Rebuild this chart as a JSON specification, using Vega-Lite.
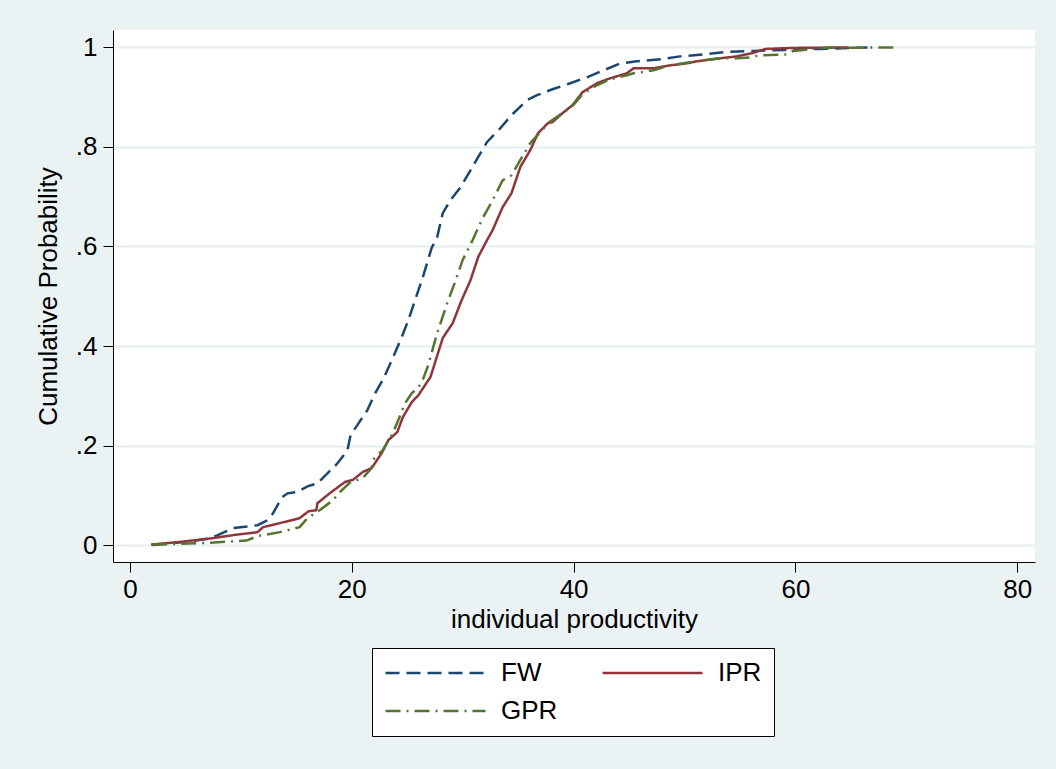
{
  "$schema": "https://vega.github.io/schema/vega-lite/v6.json",
  "width": 922,
  "height": 532,
  "autosize": {"type": "none"},
  "padding": {"left": 113, "top": 30, "right": 21, "bottom": 207},
  "background": "#EAF2F3",
  "datasets": {
    "cdf": [
      {"series": "FW", "x": 2.0, "p": 0.0},
      {"series": "FW", "x": 4.8, "p": 0.006},
      {"series": "FW", "x": 6.9, "p": 0.012},
      {"series": "FW", "x": 7.5, "p": 0.016},
      {"series": "FW", "x": 9.3, "p": 0.034},
      {"series": "FW", "x": 11.5, "p": 0.04},
      {"series": "FW", "x": 12.4, "p": 0.05},
      {"series": "FW", "x": 12.9, "p": 0.064},
      {"series": "FW", "x": 13.7, "p": 0.096},
      {"series": "FW", "x": 14.2, "p": 0.104},
      {"series": "FW", "x": 15.1, "p": 0.107},
      {"series": "FW", "x": 16.0, "p": 0.118},
      {"series": "FW", "x": 16.9, "p": 0.124},
      {"series": "FW", "x": 17.8, "p": 0.144},
      {"series": "FW", "x": 18.7, "p": 0.164},
      {"series": "FW", "x": 19.6, "p": 0.19},
      {"series": "FW", "x": 19.9, "p": 0.222},
      {"series": "FW", "x": 20.5, "p": 0.241},
      {"series": "FW", "x": 21.4, "p": 0.271},
      {"series": "FW", "x": 22.1, "p": 0.305},
      {"series": "FW", "x": 22.8, "p": 0.332},
      {"series": "FW", "x": 23.7, "p": 0.376},
      {"series": "FW", "x": 24.5, "p": 0.418},
      {"series": "FW", "x": 25.1, "p": 0.452},
      {"series": "FW", "x": 25.6, "p": 0.485},
      {"series": "FW", "x": 26.4, "p": 0.538},
      {"series": "FW", "x": 27.2, "p": 0.597},
      {"series": "FW", "x": 27.7, "p": 0.619},
      {"series": "FW", "x": 28.2, "p": 0.667},
      {"series": "FW", "x": 28.9, "p": 0.693},
      {"series": "FW", "x": 29.8, "p": 0.719},
      {"series": "FW", "x": 30.7, "p": 0.753},
      {"series": "FW", "x": 31.4, "p": 0.78},
      {"series": "FW", "x": 32.2, "p": 0.81},
      {"series": "FW", "x": 33.4, "p": 0.838},
      {"series": "FW", "x": 34.4, "p": 0.864},
      {"series": "FW", "x": 35.8, "p": 0.894},
      {"series": "FW", "x": 36.7, "p": 0.904},
      {"series": "FW", "x": 38.1, "p": 0.916},
      {"series": "FW", "x": 39.7, "p": 0.928},
      {"series": "FW", "x": 41.2, "p": 0.94},
      {"series": "FW", "x": 42.7, "p": 0.954},
      {"series": "FW", "x": 44.2, "p": 0.968},
      {"series": "FW", "x": 45.7, "p": 0.972},
      {"series": "FW", "x": 47.8, "p": 0.976},
      {"series": "FW", "x": 49.6, "p": 0.982},
      {"series": "FW", "x": 51.7, "p": 0.986},
      {"series": "FW", "x": 53.8, "p": 0.991},
      {"series": "FW", "x": 56.2, "p": 0.993},
      {"series": "FW", "x": 59.2, "p": 0.995},
      {"series": "FW", "x": 62.2, "p": 0.997},
      {"series": "FW", "x": 66.5, "p": 1.0},
      {"series": "IPR", "x": 1.9, "p": 0.001},
      {"series": "IPR", "x": 4.8, "p": 0.007},
      {"series": "IPR", "x": 7.5, "p": 0.014},
      {"series": "IPR", "x": 9.3, "p": 0.02},
      {"series": "IPR", "x": 11.5, "p": 0.026},
      {"series": "IPR", "x": 12.0, "p": 0.036},
      {"series": "IPR", "x": 13.5, "p": 0.044},
      {"series": "IPR", "x": 15.3, "p": 0.054},
      {"series": "IPR", "x": 16.1, "p": 0.068},
      {"series": "IPR", "x": 16.8, "p": 0.07},
      {"series": "IPR", "x": 16.9, "p": 0.084},
      {"series": "IPR", "x": 18.0, "p": 0.104},
      {"series": "IPR", "x": 19.4, "p": 0.127},
      {"series": "IPR", "x": 20.1, "p": 0.131},
      {"series": "IPR", "x": 21.0, "p": 0.147},
      {"series": "IPR", "x": 21.8, "p": 0.155},
      {"series": "IPR", "x": 22.7, "p": 0.185},
      {"series": "IPR", "x": 23.3, "p": 0.211},
      {"series": "IPR", "x": 24.1, "p": 0.227},
      {"series": "IPR", "x": 24.6, "p": 0.257},
      {"series": "IPR", "x": 25.4, "p": 0.287},
      {"series": "IPR", "x": 26.0, "p": 0.301},
      {"series": "IPR", "x": 27.1, "p": 0.338},
      {"series": "IPR", "x": 28.2, "p": 0.416},
      {"series": "IPR", "x": 29.1, "p": 0.446},
      {"series": "IPR", "x": 29.9, "p": 0.492},
      {"series": "IPR", "x": 30.7, "p": 0.532},
      {"series": "IPR", "x": 31.4, "p": 0.579},
      {"series": "IPR", "x": 32.2, "p": 0.613},
      {"series": "IPR", "x": 32.7, "p": 0.633},
      {"series": "IPR", "x": 33.6, "p": 0.679},
      {"series": "IPR", "x": 34.4, "p": 0.707},
      {"series": "IPR", "x": 35.2, "p": 0.76},
      {"series": "IPR", "x": 36.1, "p": 0.794},
      {"series": "IPR", "x": 36.8, "p": 0.828},
      {"series": "IPR", "x": 37.7, "p": 0.848},
      {"series": "IPR", "x": 38.1, "p": 0.85},
      {"series": "IPR", "x": 39.0, "p": 0.868},
      {"series": "IPR", "x": 39.9, "p": 0.884},
      {"series": "IPR", "x": 40.8, "p": 0.91},
      {"series": "IPR", "x": 42.1, "p": 0.928},
      {"series": "IPR", "x": 43.3, "p": 0.938},
      {"series": "IPR", "x": 44.8, "p": 0.948},
      {"series": "IPR", "x": 45.4, "p": 0.958},
      {"series": "IPR", "x": 47.2, "p": 0.958},
      {"series": "IPR", "x": 48.7, "p": 0.964},
      {"series": "IPR", "x": 50.2, "p": 0.968},
      {"series": "IPR", "x": 51.1, "p": 0.972},
      {"series": "IPR", "x": 53.2, "p": 0.978},
      {"series": "IPR", "x": 54.7, "p": 0.982},
      {"series": "IPR", "x": 56.2, "p": 0.989},
      {"series": "IPR", "x": 57.3, "p": 0.997},
      {"series": "IPR", "x": 59.8, "p": 0.999},
      {"series": "IPR", "x": 64.8, "p": 1.0},
      {"series": "GPR", "x": 2.0, "p": 0.001},
      {"series": "GPR", "x": 6.5, "p": 0.004},
      {"series": "GPR", "x": 10.5, "p": 0.009},
      {"series": "GPR", "x": 11.5, "p": 0.018},
      {"series": "GPR", "x": 13.5, "p": 0.026},
      {"series": "GPR", "x": 15.3, "p": 0.036},
      {"series": "GPR", "x": 16.0, "p": 0.054},
      {"series": "GPR", "x": 17.1, "p": 0.07},
      {"series": "GPR", "x": 18.3, "p": 0.09},
      {"series": "GPR", "x": 18.9, "p": 0.106},
      {"series": "GPR", "x": 19.8, "p": 0.125},
      {"series": "GPR", "x": 21.0, "p": 0.135},
      {"series": "GPR", "x": 21.8, "p": 0.155},
      {"series": "GPR", "x": 21.9, "p": 0.171},
      {"series": "GPR", "x": 22.8, "p": 0.191},
      {"series": "GPR", "x": 23.7, "p": 0.225},
      {"series": "GPR", "x": 24.3, "p": 0.257},
      {"series": "GPR", "x": 24.8, "p": 0.285},
      {"series": "GPR", "x": 25.4, "p": 0.305},
      {"series": "GPR", "x": 26.0, "p": 0.317},
      {"series": "GPR", "x": 26.4, "p": 0.332},
      {"series": "GPR", "x": 26.9, "p": 0.362},
      {"series": "GPR", "x": 27.7, "p": 0.426},
      {"series": "GPR", "x": 28.6, "p": 0.486},
      {"series": "GPR", "x": 29.3, "p": 0.528},
      {"series": "GPR", "x": 30.0, "p": 0.573},
      {"series": "GPR", "x": 30.9, "p": 0.613},
      {"series": "GPR", "x": 31.8, "p": 0.657},
      {"series": "GPR", "x": 32.7, "p": 0.693},
      {"series": "GPR", "x": 33.6, "p": 0.733},
      {"series": "GPR", "x": 34.4, "p": 0.743},
      {"series": "GPR", "x": 35.2, "p": 0.774},
      {"series": "GPR", "x": 36.1, "p": 0.808},
      {"series": "GPR", "x": 37.0, "p": 0.83},
      {"series": "GPR", "x": 37.7, "p": 0.848},
      {"series": "GPR", "x": 39.0, "p": 0.868},
      {"series": "GPR", "x": 39.9, "p": 0.882},
      {"series": "GPR", "x": 40.8, "p": 0.906},
      {"series": "GPR", "x": 42.1, "p": 0.924},
      {"series": "GPR", "x": 43.3, "p": 0.936},
      {"series": "GPR", "x": 44.8, "p": 0.944},
      {"series": "GPR", "x": 45.4, "p": 0.948},
      {"series": "GPR", "x": 47.2, "p": 0.954},
      {"series": "GPR", "x": 48.7, "p": 0.964},
      {"series": "GPR", "x": 51.7, "p": 0.974},
      {"series": "GPR", "x": 53.2, "p": 0.978},
      {"series": "GPR", "x": 54.7, "p": 0.978},
      {"series": "GPR", "x": 55.9, "p": 0.98},
      {"series": "GPR", "x": 56.8, "p": 0.984},
      {"series": "GPR", "x": 59.2, "p": 0.986},
      {"series": "GPR", "x": 59.8, "p": 0.993},
      {"series": "GPR", "x": 60.7, "p": 0.995},
      {"series": "GPR", "x": 62.2, "p": 0.999},
      {"series": "GPR", "x": 69.2, "p": 1.0}
    ]
  },
  "data": {"name": "cdf"},
  "mark": {"type": "line", "strokeWidth": 2.5, "interpolate": "linear"},
  "encoding": {
    "x": {
      "field": "x",
      "type": "quantitative",
      "title": "individual productivity",
      "scale": {"domain": [-1.53, 81.6], "nice": false, "zero": false},
      "axis": {"values": [0, 20, 40, 60, 80], "grid": false, "labelPadding": 4, "titlePadding": 4}
    },
    "y": {
      "field": "p",
      "type": "quantitative",
      "title": "Cumulative Probability",
      "scale": {"domain": [-0.034, 1.035], "nice": false, "zero": false},
      "axis": {
        "values": [0, 0.2, 0.4, 0.6, 0.8, 1],
        "labelExpr": "datum.value == 0 ? '0' : datum.value == 1 ? '1' : replace(format(datum.value, '.1f'), '0.', '.')",
        "grid": true,
        "gridColor": "#E6EEF1",
        "gridWidth": 2,
        "labelPadding": 6,
        "titlePadding": 14
      }
    },
    "color": {
      "field": "series",
      "type": "nominal",
      "scale": {"domain": ["FW", "IPR", "GPR"], "range": ["#1A476F", "#90353B", "#55752F"]},
      "legend": {"title": null}
    },
    "strokeDash": {
      "field": "series",
      "type": "nominal",
      "scale": {"domain": ["FW", "IPR", "GPR"], "range": [[14, 7], [1, 0], [15, 6, 2, 6]]},
      "legend": {"title": null}
    }
  },
  "config": {
    "view": {"stroke": null, "fill": "white"},
    "axis": {
      "domainColor": "black",
      "domainWidth": 1,
      "tickColor": "black",
      "tickWidth": 1,
      "tickSize": 10,
      "labelFont": "Liberation Sans",
      "labelFontSize": 26,
      "labelColor": "black",
      "titleFont": "Liberation Sans",
      "titleFontSize": 26,
      "titleFontWeight": "normal",
      "titleColor": "black"
    },
    "legend": {
      "orient": "none",
      "legendX": 259,
      "legendY": 618,
      "direction": "horizontal",
      "columns": 2,
      "columnPadding": 43,
      "rowPadding": 12,
      "padding": 12,
      "fillColor": "white",
      "strokeColor": "black",
      "symbolType": "stroke",
      "symbolSize": 10000,
      "symbolStrokeWidth": 2.5,
      "clipHeight": 26,
      "labelOffset": 14,
      "labelFont": "Liberation Sans",
      "labelFontSize": 26,
      "labelColor": "black",
      "labelLimit": 200
    }
  }
}
